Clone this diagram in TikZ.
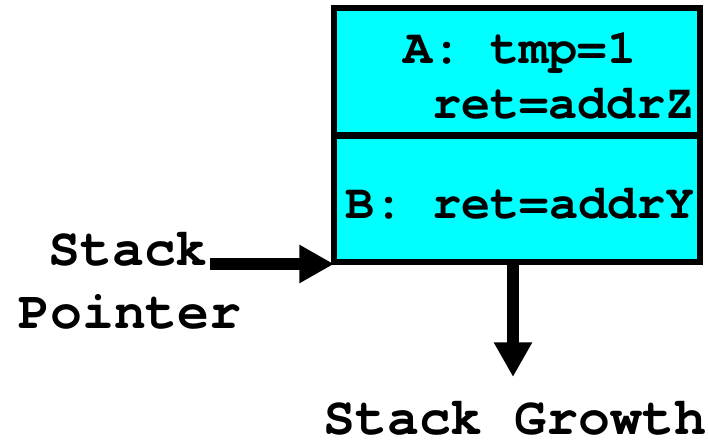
\documentclass[tikz,border=0pt]{standalone}
\usepackage{fontspec}
\setmonofont{texgyrecursor}[Extension=.otf, UprightFont=*-regular, BoldFont=*-bold]
\usetikzlibrary{arrows.meta}
\definecolor{framefill}{RGB}{0,255,255}
\begin{document}
\begin{tikzpicture}[x=0.75pt,y=-0.75pt,
  cell/.style={draw=black, line width=4.5pt, fill=framefill, anchor=north west,
    minimum width=274.5pt, inner sep=0pt, outer sep=0pt},
  celltext/.style={anchor=base west, inner sep=0pt, text depth=0pt,
    font=\ttfamily\bfseries\fontsize{36.4}{40}\selectfont},
  label/.style={anchor=base west, inner sep=0pt, text depth=0pt,
    font=\ttfamily\bfseries\fontsize{39.9}{44}\selectfont},
  bigarrow/.style={line width=9pt, -{Triangle[length=26pt,width=27pt]}}]
\useasboundingbox (0,0) rectangle (708,440);

% stack frames
\node[cell, minimum height=95.6pt] (frameA) at (334,8) {};
\node[cell, minimum height=94.9pt] (frameB) at (334,135.5) {};

% frame contents
\node[celltext] (atmp) at (403,63) {A: tmp=1};
\node[celltext] (aret) at (432,118) {ret=addrZ};
\node[celltext] (bret) at (345,218) {B: ret=addrY};

% labels
\node[label] (sp1) at (48,265) {Stack};
\node[label] (sp2) at (18,328) {Pointer};
\node[label] (growth) at (323,434) {Stack Growth};

% arrows
\coordinate (spfrom) at (210,264);
\coordinate (growtip) at (513,377);
\draw[bigarrow] (spfrom) -- (spfrom -| frameB.south west);
\draw[bigarrow] (frameB.south -| growtip) -- (growtip);
\end{tikzpicture}
\end{document}
